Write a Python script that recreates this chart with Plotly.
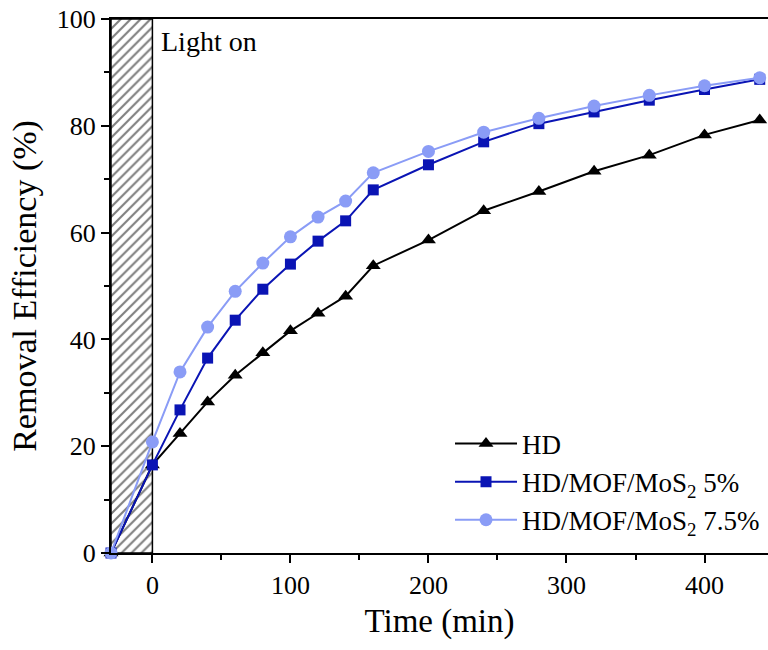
import plotly.graph_objects as go

time_min = [-30, 0, 20, 40, 60, 80, 100, 120, 140, 160, 200, 240, 280, 320, 360, 400, 440]
hd = [0, 16.5, 22.4, 28.3, 33.3, 37.5, 41.6, 44.9, 48.1, 53.8, 58.6, 64.1, 67.7, 71.5, 74.5, 78.3, 81.1]
mos2_5 = [0, 16.5, 26.8, 36.5, 43.6, 49.4, 54.1, 58.4, 62.2, 68.0, 72.7, 77.0, 80.4, 82.6, 84.8, 86.8, 88.7]
mos2_75 = [0, 20.8, 33.9, 42.3, 49.0, 54.3, 59.2, 62.9, 65.9, 71.2, 75.2, 78.8, 81.4, 83.7, 85.7, 87.5, 89.0]
series_names = ["HD", "HD/MOF/MoS<sub>2</sub> 5%", "HD/MOF/MoS<sub>2</sub> 7.5%"]
dark_x = [-30, 0]
y_span = [0, 100]

FONT = "Liberation Serif, Times New Roman, serif"

fig = go.Figure()

# Dark (light-off) hatched region
fig.add_trace(go.Scatter(
    x=[dark_x[0], dark_x[1], dark_x[1], dark_x[0], dark_x[0]],
    y=[y_span[0], y_span[0], y_span[1], y_span[1], y_span[0]],
    mode="lines", fill="toself",
    fillcolor="white",
    fillpattern=dict(shape="/", fgcolor="black", bgcolor="white", size=7, solidity=0.3),
    line=dict(color="black", width=1.5),
    showlegend=False, hoverinfo="skip",
))

fig.add_trace(go.Scatter(
    x=time_min, y=hd, name=series_names[0], mode="lines+markers",
    line=dict(color="black", width=2),
    marker=dict(symbol="triangle-up", size=13, color="black"),
    cliponaxis=False,
))
fig.add_trace(go.Scatter(
    x=time_min, y=mos2_5, name=series_names[1], mode="lines+markers",
    line=dict(color="#0a14b4", width=2),
    marker=dict(symbol="square", size=11, color="#0a14b4"),
    cliponaxis=False,
))
fig.add_trace(go.Scatter(
    x=time_min, y=mos2_75, name=series_names[2], mode="lines+markers",
    line=dict(color="#8a9cf6", width=2),
    marker=dict(symbol="circle", size=13, color="#8a9cf6"),
    cliponaxis=False,
))

fig.add_annotation(
    x=5, y=99, xref="x", yref="y", text="Light on", showarrow=False,
    xanchor="left", yanchor="top", font=dict(family=FONT, size=28, color="black"),
)

fig.update_layout(
    width=768, height=650,
    margin=dict(l=111, r=0, t=19, b=97),
    paper_bgcolor="white", plot_bgcolor="white",
    font=dict(family=FONT, color="black"),
    legend=dict(
        x=0.516, y=0.25, xanchor="left", yanchor="top",
        bgcolor="rgba(0,0,0,0)", font=dict(family=FONT, size=27),
        itemwidth=62, tracegroupgap=2,
    ),
    xaxis=dict(
        range=[-30, 446], showgrid=False, zeroline=False,
        showline=True, linecolor="black", linewidth=2, mirror=True,
        ticks="outside", ticklen=8, tickwidth=2, tickcolor="black",
        tickvals=[0, 100, 200, 300, 400],
        minor=dict(tickvals=[50, 150, 250, 350], ticks="outside", ticklen=5, tickwidth=2, tickcolor="black"),
        tickfont=dict(family=FONT, size=26),
        title=dict(text="Time (min)", font=dict(family=FONT, size=33), standoff=10),
    ),
    yaxis=dict(
        range=[0, 100], showgrid=False, zeroline=False,
        showline=True, linecolor="black", linewidth=2, mirror=False,
        ticks="outside", ticklen=8, tickwidth=2, tickcolor="black",
        tickvals=[0, 20, 40, 60, 80, 100],
        minor=dict(tickvals=[10, 30, 50, 70, 90], ticks="outside", ticklen=5, tickwidth=2, tickcolor="black"),
        tickfont=dict(family=FONT, size=26),
        title=dict(text="Removal Efficiency (%)", font=dict(family=FONT, size=34), standoff=10),
    ),
)

fig.write_html("out.html")
